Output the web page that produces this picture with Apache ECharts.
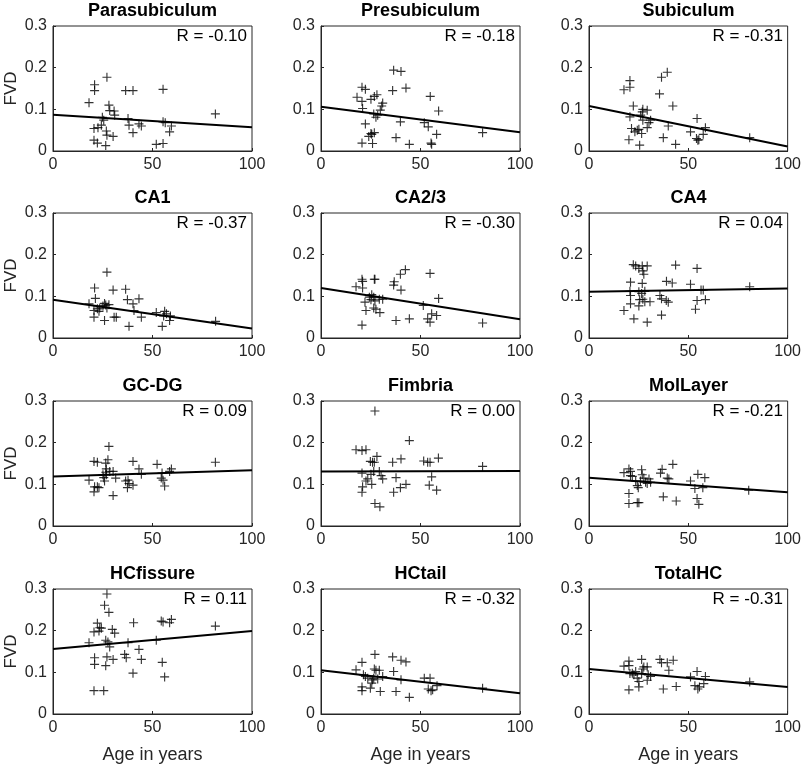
<!DOCTYPE html>
<html>
<head>
<meta charset="utf-8">
<script src="https://cdn.jsdelivr.net/npm/echarts@6/dist/echarts.min.js"></script>
<style>html,body{margin:0;padding:0;background:#fff}#c{width:804px;height:769px}</style>
</head>
<body>
<div id="c"></div>
<script>
// ---------- data ----------
const panelNames = ['Parasubiculum','Presubiculum','Subiculum','CA1','CA2/3','CA4','GC-DG','Fimbria','MolLayer','HCfissure','HCtail','TotalHC'];
const rLabels = ['-0.10','-0.18','-0.31','-0.37','-0.30','0.04','0.09','0.00','-0.21','0.11','-0.32','-0.31'];
// fitted line value at age 0 and age 100
const fitAt0   = [0.087,0.106,0.108,0.092,0.120,0.111,0.119,0.131,0.116,0.156,0.105,0.108];
const fitAt100 = [0.057,0.045,0.011,0.023,0.045,0.119,0.134,0.132,0.081,0.199,0.050,0.065];
const xTicks = [0,50,100];
const yTicks = [0,0.1,0.2,0.3];

const parasubiculum = [[18.1,0.116],[20.9,0.159],[20.9,0.145],[27.1,0.177],[20.6,0.054],[22.6,0.056],[20.6,0.026],[22.3,0.019],[24.8,0.081],[25.5,0.074],[24.3,0.062],[26.5,0.013],[26.8,0.048],[27.1,0.038],[28.1,0.110],[28.5,0.097],[30.2,0.035],[30.7,0.096],[31.0,0.086],[36.5,0.145],[40.2,0.145],[37.7,0.078],[38.2,0.062],[40.2,0.044],[43.2,0.065],[44.4,0.060],[51.9,0.016],[55.3,0.018],[55.3,0.148],[55.3,0.070],[56.4,0.068],[58.6,0.046],[59.5,0.060],[81.6,0.089]];
const presubiculum = [[18.1,0.129],[20.6,0.153],[22.3,0.148],[20.6,0.119],[20.9,0.102],[22.3,0.065],[20.6,0.019],[24.0,0.035],[25.1,0.042],[25.5,0.040],[26.8,0.044],[25.9,0.018],[25.1,0.124],[26.8,0.131],[28.1,0.135],[26.5,0.089],[27.6,0.081],[28.5,0.086],[29.8,0.098],[30.5,0.108],[31.0,0.115],[36.5,0.194],[40.2,0.191],[36.0,0.145],[42.7,0.151],[39.9,0.070],[37.7,0.032],[44.4,0.016],[51.9,0.068],[53.9,0.058],[54.9,0.131],[55.3,0.019],[55.6,0.016],[58.1,0.040],[59.1,0.096],[81.2,0.044]];
const subiculum = [[17.6,0.147],[20.6,0.169],[20.6,0.153],[20.6,0.082],[22.3,0.108],[21.4,0.054],[20.1,0.027],[23.1,0.046],[24.3,0.050],[25.1,0.052],[25.5,0.014],[26.0,0.086],[26.8,0.094],[27.1,0.100],[27.1,0.074],[26.5,0.042],[29.3,0.098],[30.2,0.068],[31.0,0.074],[29.3,0.056],[35.5,0.137],[36.5,0.177],[39.4,0.189],[42.2,0.108],[39.9,0.060],[37.4,0.032],[43.6,0.016],[51.1,0.046],[54.4,0.078],[54.1,0.030],[54.8,0.026],[55.3,0.027],[57.5,0.040],[58.6,0.056],[80.9,0.032]];
const ca1 = [[18.1,0.082],[20.9,0.120],[21.3,0.095],[20.6,0.066],[20.6,0.050],[22.3,0.070],[23.1,0.064],[23.5,0.072],[25.1,0.077],[25.9,0.083],[26.5,0.079],[27.1,0.072],[27.1,0.158],[28.1,0.080],[25.9,0.042],[30.2,0.115],[36.5,0.117],[30.7,0.050],[31.8,0.050],[37.4,0.092],[40.2,0.082],[40.7,0.066],[43.2,0.094],[44.4,0.050],[38.2,0.028],[51.9,0.061],[54.9,0.028],[55.6,0.053],[56.1,0.064],[57.0,0.058],[58.6,0.042],[59.0,0.053],[81.7,0.040]];
const ca23 = [[17.6,0.123],[20.6,0.141],[20.9,0.136],[20.9,0.120],[20.6,0.031],[22.1,0.086],[22.6,0.066],[24.3,0.098],[25.5,0.104],[26.5,0.098],[26.8,0.141],[27.1,0.141],[25.1,0.092],[27.1,0.089],[26.5,0.072],[27.6,0.069],[29.6,0.061],[29.3,0.093],[31.0,0.093],[36.5,0.127],[36.8,0.135],[39.9,0.153],[42.4,0.164],[40.2,0.115],[37.7,0.042],[44.4,0.046],[51.4,0.078],[54.8,0.155],[53.6,0.046],[54.8,0.038],[55.6,0.058],[58.1,0.054],[59.1,0.095],[81.2,0.036]];
const ca4 = [[17.6,0.066],[20.9,0.134],[20.6,0.112],[20.9,0.102],[20.9,0.082],[22.3,0.176],[23.5,0.173],[22.6,0.046],[25.1,0.167],[26.8,0.173],[27.1,0.161],[27.6,0.153],[26.8,0.131],[25.1,0.111],[26.5,0.107],[28.1,0.112],[25.5,0.092],[27.1,0.093],[28.1,0.087],[25.1,0.077],[29.3,0.173],[29.3,0.038],[30.7,0.087],[35.7,0.102],[36.5,0.094],[36.5,0.055],[39.0,0.136],[41.9,0.132],[38.9,0.090],[39.9,0.086],[43.6,0.175],[51.1,0.129],[54.4,0.167],[53.6,0.069],[54.4,0.090],[56.4,0.115],[57.5,0.115],[58.6,0.092],[80.9,0.123]];
const gcdg = [[18.1,0.110],[20.6,0.155],[22.3,0.153],[20.9,0.094],[20.6,0.082],[22.3,0.094],[23.1,0.092],[25.1,0.123],[26.5,0.129],[26.8,0.137],[26.5,0.151],[25.9,0.108],[25.5,0.116],[26.8,0.123],[28.1,0.191],[27.6,0.159],[28.5,0.131],[30.2,0.131],[31.5,0.115],[30.2,0.073],[36.5,0.108],[37.7,0.110],[38.2,0.102],[37.4,0.092],[40.2,0.098],[40.2,0.155],[43.2,0.137],[44.4,0.124],[52.3,0.148],[54.8,0.127],[55.3,0.110],[54.4,0.115],[56.1,0.096],[58.6,0.131],[59.5,0.137],[81.6,0.153]];
const fimbria = [[17.6,0.183],[20.6,0.181],[22.6,0.183],[20.6,0.127],[20.9,0.094],[20.6,0.081],[22.6,0.108],[23.5,0.113],[24.8,0.155],[25.9,0.153],[25.1,0.124],[26.5,0.131],[25.5,0.100],[27.1,0.276],[28.1,0.167],[26.8,0.153],[27.1,0.054],[29.6,0.046],[29.3,0.131],[30.2,0.121],[31.0,0.113],[36.0,0.153],[36.5,0.081],[37.7,0.116],[40.2,0.161],[39.9,0.092],[42.7,0.100],[44.4,0.205],[51.6,0.156],[53.6,0.153],[54.8,0.153],[54.4,0.098],[55.6,0.118],[58.1,0.086],[59.0,0.163],[81.2,0.143]];
const molLayer = [[17.6,0.128],[20.1,0.137],[20.9,0.131],[20.9,0.121],[21.8,0.119],[20.1,0.078],[20.1,0.054],[24.3,0.056],[25.1,0.056],[23.5,0.108],[24.3,0.097],[24.8,0.092],[26.5,0.135],[26.8,0.123],[27.6,0.115],[28.5,0.105],[29.3,0.102],[25.9,0.108],[30.2,0.113],[31.0,0.105],[36.0,0.127],[36.8,0.136],[37.4,0.070],[39.4,0.115],[40.2,0.113],[42.2,0.148],[43.9,0.060],[51.1,0.108],[53.3,0.090],[54.8,0.124],[58.3,0.116],[54.4,0.066],[55.3,0.052],[57.3,0.092],[80.4,0.086]];
const hcFissure = [[18.1,0.171],[20.6,0.197],[20.9,0.135],[20.9,0.119],[20.6,0.056],[22.3,0.218],[23.5,0.207],[23.1,0.199],[24.3,0.206],[25.5,0.056],[25.9,0.261],[27.1,0.288],[28.1,0.244],[26.5,0.116],[27.1,0.137],[26.5,0.177],[27.6,0.173],[28.5,0.161],[29.8,0.203],[31.0,0.194],[30.2,0.131],[36.0,0.143],[36.8,0.135],[37.7,0.171],[40.5,0.219],[40.2,0.098],[43.2,0.155],[44.4,0.131],[51.9,0.177],[54.4,0.223],[55.3,0.221],[54.9,0.124],[56.1,0.089],[58.6,0.219],[59.5,0.227],[81.6,0.211]];
const hcTail = [[17.6,0.106],[20.6,0.124],[21.3,0.094],[20.6,0.065],[20.6,0.056],[22.3,0.090],[23.5,0.086],[24.8,0.062],[25.5,0.074],[25.9,0.082],[27.1,0.143],[26.8,0.108],[27.6,0.105],[29.3,0.105],[26.5,0.086],[28.5,0.084],[29.8,0.054],[31.0,0.090],[36.0,0.137],[36.5,0.102],[37.7,0.054],[40.2,0.129],[42.7,0.125],[40.2,0.082],[44.4,0.040],[51.9,0.086],[54.8,0.086],[53.9,0.060],[55.3,0.056],[56.1,0.058],[58.3,0.068],[81.2,0.062]];
const totalHC = [[17.6,0.115],[20.1,0.127],[20.1,0.116],[20.6,0.097],[20.1,0.058],[21.8,0.098],[22.6,0.094],[23.5,0.102],[24.3,0.086],[25.1,0.078],[25.1,0.065],[26.5,0.131],[27.1,0.108],[27.6,0.113],[26.5,0.097],[29.3,0.113],[29.8,0.094],[29.3,0.081],[31.0,0.090],[35.7,0.131],[36.5,0.123],[39.4,0.123],[42.4,0.129],[40.2,0.105],[37.4,0.060],[43.9,0.066],[51.1,0.089],[54.4,0.102],[53.3,0.068],[54.8,0.060],[55.6,0.065],[57.8,0.073],[58.6,0.090],[80.9,0.077]];

const panelPoints = [parasubiculum,presubiculum,subiculum,ca1,ca23,ca4,gcdg,fimbria,molLayer,hcFissure,hcTail,totalHC];

// ---------- layout ----------
const colLeft = [53, 321, 589];
const rowTop = [26, 213, 401, 589];
const gW = 199, gH = 125;
const FONT = 'Liberation Sans, Arial, Helvetica, sans-serif';
const INK = '#262626';
const plusSymbol = 'path://M3.5,0h1v3.5h3.5v1h-3.5v3.5h-1v-3.5h-3.5v-1h3.5z';

const grids = [], xAxes = [], yAxes = [], series = [], graphics = [];
panelNames.forEach((name, i) => {
  const r = Math.floor(i / 3), c = i % 3;
  const L = colLeft[c], T = rowTop[r];
  grids.push({left: L, top: T, width: gW, height: gH, show: true, borderColor: INK, borderWidth: 1, backgroundColor: '#fff'});
  xAxes.push({
    gridIndex: i, type: 'value', min: xTicks[0], max: xTicks[xTicks.length-1], interval: xTicks[1]-xTicks[0],
    axisLine: {show: true, onZero: false, lineStyle: {color: INK, width: 1}},
    axisTick: {show: true, inside: true, length: 3, lineStyle: {color: INK}},
    splitLine: {show: false},
    axisLabel: {fontSize: 16, color: INK, margin: 6, fontFamily: FONT},
    name: r === 3 ? 'Age in years' : '', nameLocation: 'middle', nameGap: 32,
    nameTextStyle: {fontSize: 18, color: INK, fontFamily: FONT}
  });
  yAxes.push({
    gridIndex: i, type: 'value', min: yTicks[0], max: yTicks[yTicks.length-1], interval: yTicks[1]-yTicks[0],
    axisLine: {show: true, onZero: false, lineStyle: {color: INK, width: 1}},
    axisTick: {show: true, inside: true, length: 3, lineStyle: {color: INK}},
    splitLine: {show: false},
    axisLabel: {fontSize: 16, color: INK, margin: 6, fontFamily: FONT, formatter: v => String(Math.round(v*10)/10)},
    name: c === 0 ? 'FVD' : '', nameLocation: 'middle', nameGap: 33,
    nameTextStyle: {fontSize: 17, color: INK, fontFamily: FONT}
  });
  series.push({
    type: 'scatter', xAxisIndex: i, yAxisIndex: i, data: panelPoints[i],
    symbol: plusSymbol, symbolSize: 9, itemStyle: {color: '#000'}, silent: true, z: 3
  });
  series.push({
    type: 'line', xAxisIndex: i, yAxisIndex: i,
    data: [[xTicks[0], fitAt0[i]], [xTicks[xTicks.length-1], fitAt100[i]]],
    showSymbol: false, symbol: 'none', lineStyle: {color: '#000', width: 2}, silent: true, z: 4
  });
  graphics.push({type: 'text', x: L + gW/2, y: T - 15, z: 10,
    style: {text: name, textAlign: 'center', textVerticalAlign: 'middle', align: 'center', verticalAlign: 'middle',
            font: 'bold 18px ' + FONT, fill: '#000'}});
  graphics.push({type: 'text', x: L + gW - 5, y: T + 10, z: 10,
    style: {text: 'R = ' + rLabels[i], textAlign: 'right', textVerticalAlign: 'middle', align: 'right', verticalAlign: 'middle',
            font: '17px ' + FONT, fill: '#000'}});
});

const chart = echarts.init(document.getElementById('c'), null, {renderer: 'canvas'});
chart.setOption({
  animation: false,
  backgroundColor: '#fff',
  grid: grids, xAxis: xAxes, yAxis: yAxes, series: series, graphic: graphics
});
</script>
</body>
</html>
